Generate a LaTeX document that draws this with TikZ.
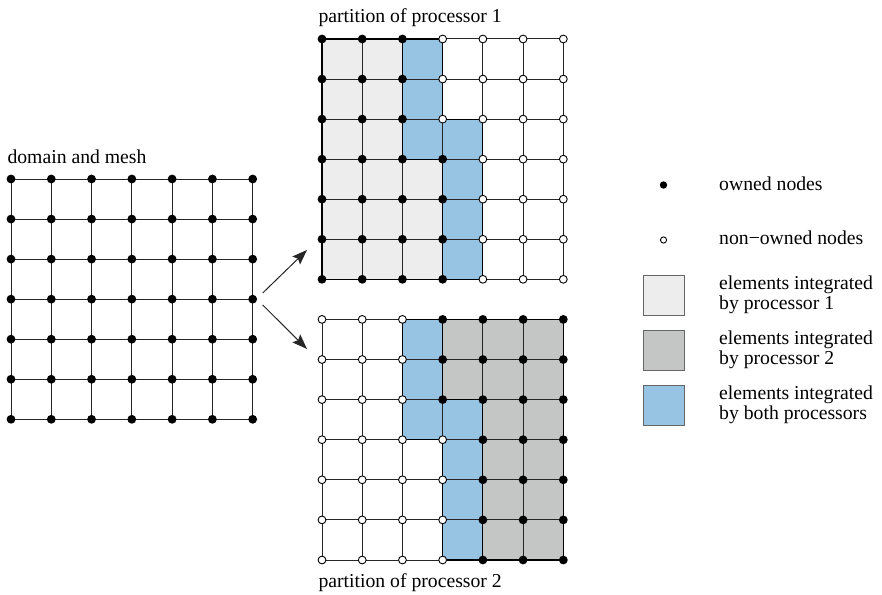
\documentclass[tikz,border=0pt]{standalone}
\usepackage{fontspec}
\setmainfont{Liberation Serif}
\usetikzlibrary{arrows.meta}
\definecolor{lightel}{RGB}{237,237,237}
\definecolor{darkel}{RGB}{196,198,198}
\definecolor{blueel}{RGB}{150,196,226}
\begin{document}
\begin{tikzpicture}[x=1pt,y=-1pt,
  font=\fontsize{19.7}{19}\selectfont,
  gridline/.style={line width=1pt, black!85},
  regionline/.style={line width=1.2pt, black},
  ownednode/.style={fill=black},
  freenode/.style={fill=white, draw=black, line width=0.9pt},
  lbl/.style={anchor=base west, inner sep=0pt},
  legbox/.style={draw=black!60, line width=0.9pt},
  arrowline/.style={line width=1pt, black!85, -{Stealth[length=15pt,width=11pt,inset=2.5pt]}}]
\useasboundingbox (0,0) rectangle (882,594);

% ---------- domain and mesh ----------
\node[lbl] (tdom) at (7.3,163.3) {domain and mesh};
\begin{scope}[shift={(11,179)}, x=40.28pt, y=-40.05pt]
  \foreach \i in {0,...,6} {
    \draw[gridline] (\i,0) -- (\i,6);
    \draw[gridline] (0,\i) -- (6,\i);
  }
  \foreach \i in {0,...,6} \foreach \j in {0,...,6} \fill[ownednode] (\i,\j) circle (4.4pt);
\end{scope}

% ---------- partition of processor 1 ----------
\node[lbl] (tp1) at (318.3,23) {partition of processor 1};
\begin{scope}[shift={(322,39)}, x=40.22pt, y=-40.05pt]
  \fill[lightel] (0,0) -- (2,0) -- (2,3) -- (3,3) -- (3,6) -- (0,6) -- cycle;
  \fill[blueel] (2,0) -- (3,0) -- (3,2) -- (4,2) -- (4,6) -- (3,6) -- (3,3) -- (2,3) -- cycle;
  \foreach \i in {0,...,6} {
    \draw[gridline] (\i,0) -- (\i,6);
    \draw[gridline] (0,\i) -- (6,\i);
  }
  \draw[regionline] (0,0) -- (3,0) -- (3,2) -- (4,2) -- (4,6) -- (0,6) -- cycle;
  \draw[regionline] (2,0) -- (2,3) -- (3,3) -- (3,6);
  \foreach \j in {0,...,6} {
    \foreach \i in {0,...,6} {
      \ifnum\j<3 \def\plim{2}\else\def\plim{3}\fi
      \ifnum\i>\plim
        \filldraw[freenode] (\i,\j) circle (3.9pt);
      \else
        \fill[ownednode] (\i,\j) circle (4.4pt);
      \fi
    }
  }
\end{scope}

% ---------- partition of processor 2 ----------
\node[lbl] (tp2) at (318.3,587.3) {partition of processor 2};
\begin{scope}[shift={(322,319.4)}, x=40.22pt, y=-40.1pt]
  \fill[darkel] (3,0) -- (6,0) -- (6,6) -- (4,6) -- (4,2) -- (3,2) -- cycle;
  \fill[blueel] (2,0) -- (3,0) -- (3,2) -- (4,2) -- (4,6) -- (3,6) -- (3,3) -- (2,3) -- cycle;
  \foreach \i in {0,...,6} {
    \draw[gridline] (\i,0) -- (\i,6);
    \draw[gridline] (0,\i) -- (6,\i);
  }
  \draw[regionline] (2,0) -- (6,0) -- (6,6) -- (3,6) -- (3,3) -- (2,3) -- cycle;
  \draw[regionline] (3,0) -- (3,2) -- (4,2) -- (4,6);
  \foreach \j in {0,...,6} {
    \foreach \i in {0,...,6} {
      \ifnum\j<3 \def\plim{2}\else\def\plim{3}\fi
      \ifnum\i>\plim
        \fill[ownednode] (\i,\j) circle (4.4pt);
      \else
        \filldraw[freenode] (\i,\j) circle (3.9pt);
      \fi
    }
  }
\end{scope}

% ---------- arrows ----------
\coordinate (a1s) at (262.7,293);
\coordinate (a1e) at (307,250);
\coordinate (a2s) at (262.7,305);
\coordinate (a2e) at (307,349);
\draw[arrowline] (a1s) -- (a1e);
\draw[arrowline] (a2s) -- (a2e);

% ---------- legend ----------
\fill[ownednode] (663.5,185) circle (3.7pt);
\node[lbl] (lown) at (719,190) {owned nodes};
\filldraw[freenode] (663.5,240) circle (3.1pt);
\node[lbl] (lnon) at (719,244.5) {non\char"2212 owned nodes};

\filldraw[legbox, fill=lightel] (643.3,275) rectangle (684,315);
\node[lbl] (l1a) at (719,289) {elements integrated};
\node[lbl] (l1b) at (719,309) {by processor 1};

\filldraw[legbox, fill=darkel] (643.3,330) rectangle (684,370);
\node[lbl] (l2a) at (719,344) {elements integrated};
\node[lbl] (l2b) at (719,364) {by processor 2};

\filldraw[legbox, fill=blueel] (643.3,385.7) rectangle (684,425.7);
\node[lbl] (l3a) at (719,399) {elements integrated};
\node[lbl] (l3b) at (719,419) {by both processors};
\end{tikzpicture}
\end{document}
